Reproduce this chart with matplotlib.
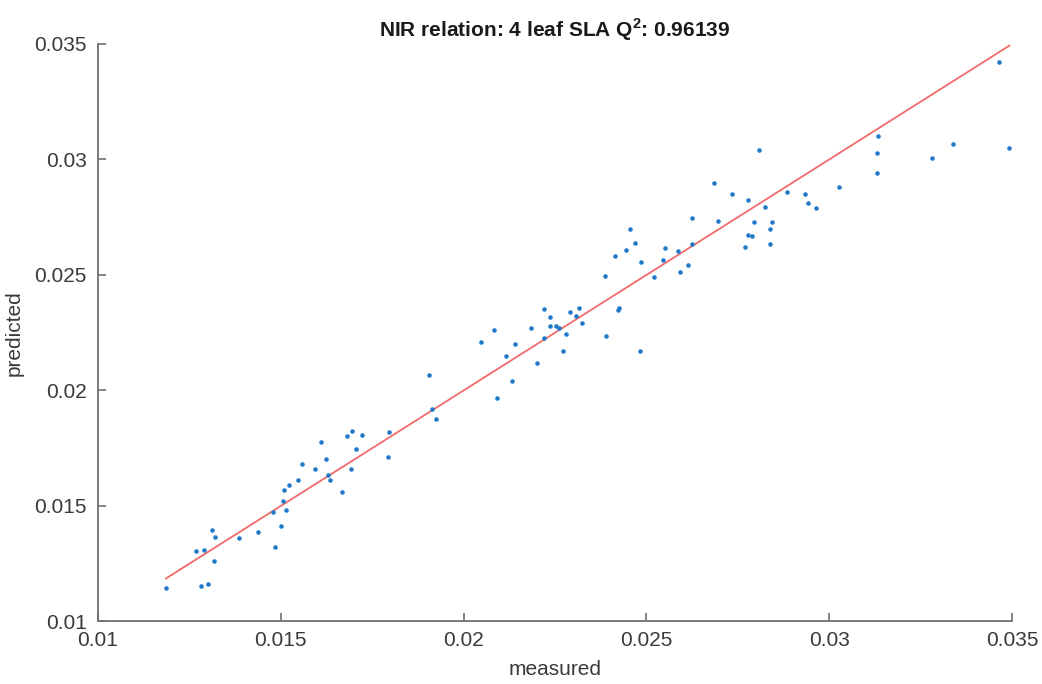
import numpy as np
import matplotlib
matplotlib.use("Agg")
import matplotlib.pyplot as plt

plt.rcParams['font.family'] = ['Liberation Sans', 'DejaVu Sans']
plt.rcParams['mathtext.fontset'] = 'custom'
plt.rcParams['mathtext.rm'] = 'Liberation Sans:bold'
plt.rcParams['mathtext.bf'] = 'Liberation Sans:bold'

# measured vs predicted SLA
measured = [
    0.01186, 0.01282, 0.01300, 0.01268, 0.01291, 0.01318, 0.01313, 0.01321,
    0.01386, 0.01438, 0.01485, 0.01501, 0.01479, 0.01513, 0.01506, 0.01509,
    0.01522, 0.01548, 0.01559, 0.01593, 0.01610, 0.01623, 0.01630, 0.01635,
    0.01667, 0.01681, 0.01696, 0.01723, 0.01707, 0.01691, 0.01795, 0.01794,
    0.01924, 0.01905, 0.01914, 0.02048, 0.02084, 0.02116, 0.02141, 0.02092,
    0.02133, 0.02200, 0.02185, 0.02221, 0.02237, 0.02236, 0.02253, 0.02262,
    0.02221, 0.02279, 0.02273, 0.02291, 0.02307, 0.02316, 0.02323, 0.02389,
    0.02422, 0.02425, 0.02482, 0.02388, 0.02414, 0.02444, 0.02456, 0.02469,
    0.02486, 0.02522, 0.02546, 0.02551, 0.02586, 0.02593, 0.02615, 0.02626,
    0.02626, 0.02686, 0.02695, 0.02734, 0.02778, 0.02824, 0.02795, 0.02779,
    0.02788, 0.02770, 0.02838, 0.02844, 0.02838, 0.02885, 0.02807, 0.02935,
    0.02941, 0.02964, 0.03026, 0.03133, 0.03130, 0.03130, 0.03282, 0.03338,
    0.03493, 0.03465,
]
predicted = [
    0.01147, 0.01153, 0.01161, 0.01303, 0.01311, 0.01262, 0.01396, 0.01366,
    0.01360, 0.01389, 0.01324, 0.01414, 0.01474, 0.01484, 0.01522, 0.01571,
    0.01589, 0.01614, 0.01680, 0.01661, 0.01775, 0.01705, 0.01635, 0.01611,
    0.01562, 0.01805, 0.01824, 0.01808, 0.01746, 0.01658, 0.01820, 0.01712,
    0.01877, 0.02066, 0.01919, 0.02210, 0.02262, 0.02151, 0.02203, 0.01968,
    0.02042, 0.02121, 0.02271, 0.02353, 0.02317, 0.02278, 0.02278, 0.02271,
    0.02226, 0.02245, 0.02173, 0.02340, 0.02323, 0.02357, 0.02292, 0.02237,
    0.02349, 0.02357, 0.02171, 0.02494, 0.02583, 0.02609, 0.02700, 0.02638,
    0.02556, 0.02491, 0.02563, 0.02618, 0.02604, 0.02513, 0.02544, 0.02745,
    0.02633, 0.02900, 0.02733, 0.02849, 0.02825, 0.02794, 0.02728, 0.02673,
    0.02667, 0.02620, 0.02697, 0.02729, 0.02634, 0.02860, 0.03039, 0.02851,
    0.02811, 0.02792, 0.02880, 0.03101, 0.03026, 0.02941, 0.03007, 0.03065,
    0.03049, 0.03420,
]
ticks = [0.01, 0.015, 0.02, 0.025, 0.03, 0.035]
tick_labels = ['0.01', '0.015', '0.02', '0.025', '0.03', '0.035']

axis_col = '#707070'
text_col = '#3a3a3a'

fig = plt.figure(figsize=(10.42, 6.84), dpi=100)
ax = fig.add_axes([0.094, 0.0914, 0.8772, 0.8443])

# identity line over the measured range
lo, hi = min(measured), max(measured)
ax.plot([lo, hi], [lo, hi], color='#F26A6A', linewidth=1.3, zorder=2)
ax.plot(measured, predicted, linestyle='none', marker='.', markersize=4.5,
        color='#1F78C8', zorder=3)

ax.set_xlim(0.01, 0.035)
ax.set_ylim(0.01, 0.035)
ax.set_xticks(ticks)
ax.set_xticklabels(tick_labels)
ax.set_yticks(ticks)
ax.set_yticklabels(tick_labels)

for side in ['top', 'right']:
    ax.spines[side].set_visible(False)
for side in ['left', 'bottom']:
    ax.spines[side].set_color(axis_col)
    ax.spines[side].set_linewidth(1.3)

ax.tick_params(direction='in', length=6, width=1.2, color=axis_col,
               labelcolor=text_col, labelsize=15)
ax.tick_params(axis='x', pad=7)
ax.tick_params(axis='y', pad=8)

ax.set_xlabel('measured', fontsize=15, color=text_col, labelpad=7)
ax.set_ylabel('predicted', fontsize=15, color=text_col, labelpad=8)
ax.set_title('NIR relation: 4 leaf SLA Q$^{2}$: 0.96139', fontsize=15,
             fontweight='bold', color='#1a1a1a', pad=5)

fig.savefig('out.png', dpi=100)
